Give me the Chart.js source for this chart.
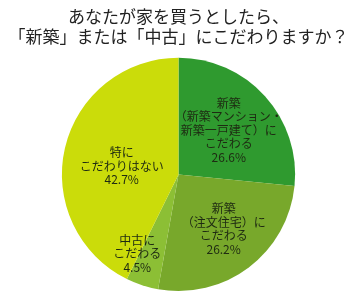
<!DOCTYPE html>
<html><head><meta charset="utf-8">
<script src="https://cdn.jsdelivr.net/npm/chart.js@4.4.0/dist/chart.umd.min.js"></script>
<style>html,body{margin:0;padding:0;background:#fff}#wrap{width:350px;height:300px}</style>
</head><body><div id="wrap"><canvas id="c" width="350" height="300"></canvas></div>
<script>
const titleLines = ["あなたが家を買うとしたら、", "「新築」または「中古」にこだわりますか？"];
const categories = [
  ["新築", "（新築マンション・", "新築一戸建て）に", "こだわる"],
  ["新築", "（注文住宅）に", "こだわる"],
  ["中古に", "こだわる"],
  ["特に", "こだわりはない"]
];
const values = [26.6, 26.2, 4.5, 42.7];
const colors = ["#2f9a2f", "#78a82b", "#8cbf35", "#cbdc0a"];
// label placement relative to slice centroid (dx, dy in px)
const labelOffsets = [[7, -5], [10, 8], [-23, 24], [0, 5]];

const labelPlugin = {
  id: "sliceLabels",
  afterDatasetsDraw(chart) {
    const ctx = chart.ctx;
    const meta = chart.getDatasetMeta(0);
    ctx.save();
    ctx.font = "12px 'Noto Sans CJK JP'";
    ctx.fillStyle = "#1e2a12";
    ctx.textAlign = "center";
    ctx.textBaseline = "middle";
    meta.data.forEach((arc, i) => {
      const p = arc.tooltipPosition();
      const lines = categories[i].concat([values[i].toFixed(1) + "%"]);
      const lh = 13.5;
      const x = p.x + labelOffsets[i][0];
      const y0 = p.y + labelOffsets[i][1] - (lines.length - 1) * lh / 2;
      lines.forEach((t, k) => ctx.fillText(t, x, y0 + k * lh));
    });
    ctx.restore();
  }
};

new Chart(document.getElementById("c"), {
  type: "pie",
  data: {
    labels: categories.map(c => c.join("")),
    datasets: [{ data: values, backgroundColor: colors, borderWidth: 0 }]
  },
  options: {
    responsive: false,
    animation: false,
    layout: { padding: { left: 7, right: 0, top: 0, bottom: 9 } },
    plugins: {
      legend: { display: false },
      tooltip: { enabled: false },
      title: {
        display: true,
        text: titleLines,
        color: "#222",
        font: { family: "'Noto Sans CJK JP'", size: 17, weight: "normal", lineHeight: 1.2 },
        padding: { top: 6, bottom: 11 }
      }
    }
  },
  plugins: [labelPlugin]
});
</script>
</body></html>
